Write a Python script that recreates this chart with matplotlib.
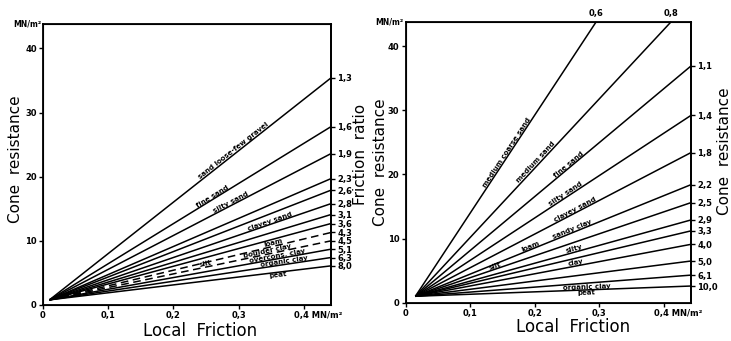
import math

import matplotlib
matplotlib.use("Agg")
import matplotlib.pyplot as plt
from matplotlib.transforms import ScaledTranslation

# ---- left chart: friction ratio lines (cone resistance read at the right edge)
left_ratio = ["1,3", "1,6", "1,9", "2,3", "2,6", "2,8", "3,1", "3,6", "4,3", "4,5", "5,1", "6,3", "8,0"]
left_end_q = [35.4, 27.8, 23.6, 19.7, 17.9, 15.8, 14.1, 12.7, 11.3, 10.0, 8.7, 7.4, 6.1]
left_dashed = ["4,3", "4,5"]
left_start = (0.01, 0.8)
left_soils = ["sand loose-few gravel", "fine sand", "silty sand", "clayey sand", "loam",
              "silt", "boulder clay", "overcons. clay", "organic clay", "peat"]
left_soil_line = ["1,3", "1,6", "1,9", "2,8", "4,3", "4,5", "4,5", "5,1", "6,3", "8,0"]
left_soil_x = [0.295, 0.262, 0.29, 0.35, 0.355, 0.25, 0.345, 0.36, 0.37, 0.36]

# ---- right chart
right_ratio = ["0,6", "0,8", "1,1", "1,4", "1,8", "2,2", "2,5", "2,9", "3,3", "4,0", "5,0", "6,1", "10,0"]
right_end_x = [0.295, 0.411, 0.4417, 0.4417, 0.4417, 0.4417, 0.4417, 0.4417, 0.4417, 0.4417, 0.4417, 0.4417, 0.4417]
right_end_q = [43.8, 43.8, 36.9, 29.2, 23.4, 18.4, 15.6, 12.9, 11.2, 9.1, 6.5, 4.3, 2.6]
right_start = (0.015, 1.0)
right_soils = ["medium coarse sand", "medium sand", "fine sand", "silty sand", "clayey sand",
               "sandy clay", "silty", "loam", "silt", "clay", "organic clay", "peat"]
right_soil_line = ["0,6", "0,8", "1,1", "1,4", "1,8", "2,2", "2,9", "2,2", "2,5", "4,0", "10,0", "10,0"]
right_soil_x = [0.16, 0.205, 0.255, 0.25, 0.265, 0.26, 0.262, 0.195, 0.14, 0.265, 0.28, 0.28]

x_ticks = [0, 0.1, 0.2, 0.3, 0.4]
x_tick_labels = ["0", "0,1", "0,2", "0,3", "0,4 MN/m²"]
y_ticks = [0, 10, 20, 30, 40]

XMAX = 0.4417
YMAX = 43.8

fig = plt.figure(figsize=(7.31, 3.41), dpi=100)
ax_l = fig.add_axes([0.0588, 0.1056, 0.3940, 0.8240])
ax_r = fig.add_axes([0.5550, 0.1123, 0.3903, 0.8241])

tick_font = dict(fontsize=6, fontweight="bold")


def line_y(start, end, x):
    return start[1] + (end[1] - start[1]) * (x - start[0]) / (end[0] - start[0])


def setup(ax, right_label, ratios, ends_q, coords):
    ax.set_xlim(0, XMAX)
    ax.set_ylim(0, YMAX)
    for s in ax.spines.values():
        s.set_linewidth(1.3)
    ax.set_xticks(x_ticks)
    ax.set_xticklabels(x_tick_labels, **tick_font)
    ax.set_yticks(y_ticks)
    ax.set_yticklabels([str(v) for v in y_ticks], **tick_font)
    ax.tick_params(direction="out", length=3, width=1, pad=1.5)
    last = ax.get_xticklabels()[-1]
    last.set_horizontalalignment("left")
    last.set_transform(last.get_transform() + ScaledTranslation(-7 / 72, 0, fig.dpi_scale_trans))
    ax.text(-0.003, YMAX, "MN/m²", ha="right", va="center", fontsize=5.5, fontweight="bold")
    ax.set_xlabel("Local  Friction", fontsize=12)
    ax.xaxis.set_label_coords(*coords[0])
    ax.set_ylabel("Cone  resistance", fontsize=11)
    ax.yaxis.set_label_coords(*coords[1])

    ax2 = ax.twinx()
    ax2.set_ylim(0, YMAX)
    ax2.set_yticks(ends_q)
    ax2.set_yticklabels(ratios, **tick_font)
    ax2.tick_params(direction="out", length=3, width=1, pad=1.5)
    ax2.spines["right"].set_linewidth(1.3)
    ax2.set_ylabel(right_label, fontsize=11)
    ax2.yaxis.set_label_coords(*coords[2])
    return ax2


def soil_label(ax, start, end, x, text, below=False):
    y = line_y(start, end, x)
    ang = math.degrees(math.atan((end[1] - start[1]) / (end[0] - start[0])))
    ax.text(x, y, text, fontsize=5, fontweight="bold", rotation=ang,
            transform_rotates_text=True, rotation_mode="anchor",
            ha="center", va="top" if below else "bottom")


# left chart
setup(ax_l, "Friction  ratio", left_ratio, left_end_q,
      [(0.545, -0.062), (-0.068, 0.52), (1.075, 0.535)])
for r, q in zip(left_ratio, left_end_q):
    ls = (0, (5, 3)) if r in left_dashed else "-"
    ax_l.plot([left_start[0], XMAX], [left_start[1], q], color="black", lw=1.1, ls=ls,
              solid_capstyle="butt")
for name, r, x in zip(left_soils, left_soil_line, left_soil_x):
    q = left_end_q[left_ratio.index(r)]
    soil_label(ax_l, left_start, (XMAX, q), x, name, below=(name == "peat"))

# right chart
side = [(r, q) for r, x, q in zip(right_ratio, right_end_x, right_end_q) if x >= XMAX]
setup(ax_r, "Cone  resistance", [s[0] for s in side], [s[1] for s in side],
      [(0.586, -0.056), (-0.062, 0.50), (1.092, 0.54)])
for r, x, q in zip(right_ratio, right_end_x, right_end_q):
    ax_r.plot([right_start[0], x], [right_start[1], q], color="black", lw=1.1,
              solid_capstyle="butt", clip_on=False)
    if x < XMAX:
        ax_r.text(x, q + 0.6, r, ha="center", va="bottom", **tick_font)
for name, r, x in zip(right_soils, right_soil_line, right_soil_x):
    i = right_ratio.index(r)
    soil_label(ax_r, right_start, (right_end_x[i], right_end_q[i]), x, name,
               below=(name == "peat"))

fig.savefig("out.png", dpi=100)
